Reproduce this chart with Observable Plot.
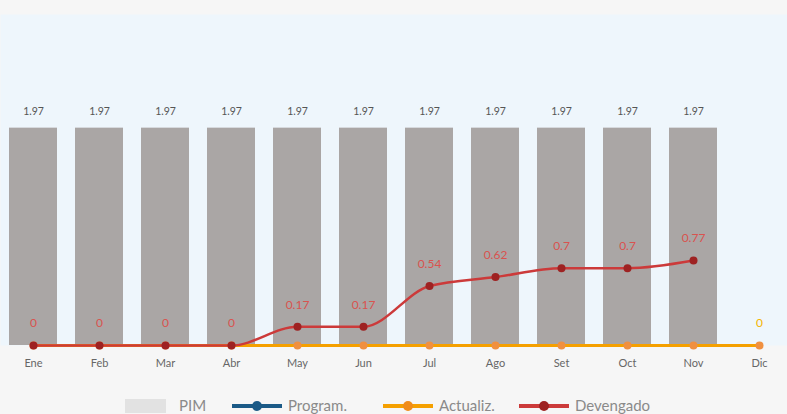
<!DOCTYPE html>
<html>
<head>
<meta charset="utf-8">
<script src="https://cdn.jsdelivr.net/npm/d3@7"></script>
<script src="https://cdn.jsdelivr.net/npm/@observablehq/plot@0.6"></script>
<style>
  html, body { margin: 0; padding: 0; background: #f6f6f6; }
  #wrap { width: 787px; height: 414px; background: #f6f6f6; font-family: Lato, "Open Sans", sans-serif; overflow: hidden; position: relative; }
  #legend { position: absolute; top: 395px; left: 0; width: 787px; height: 19px; }
  .li { position: absolute; top: 0; display: flex; align-items: center; font-size: 15px; color: #8a8a8a; height: 19px; }
</style>
</head>
<body>
<div id="wrap">
  <div id="chart"></div>
  <div id="legend"></div>
</div>
<script>
const months = ["Ene","Feb","Mar","Abr","May","Jun","Jul","Ago","Set","Oct","Nov","Dic"];
const pim = [1.97,1.97,1.97,1.97,1.97,1.97,1.97,1.97,1.97,1.97,1.97,null];
const program = [null,null,null,null,null,null,null,null,null,null,null,null];
const actualiz = [0,0,0,0,0,0,0,0,0,0,0,0];
const devengado = [0,0,0,0,0.17,0.17,0.54,0.62,0.7,0.7,0.77,null];

const rows = months.map((m, i) => ({m, pim: pim[i], program: program[i], actualiz: actualiz[i], dev: devengado[i]}));
const pimRows = rows.filter(d => d.pim != null);
const devRows = rows.filter(d => d.dev != null);
const progRows = rows.filter(d => d.program != null);
const actLabelRows = rows.filter(d => d.dev == null);

const chart = Plot.plot({
  width: 787,
  height: 385,
  marginLeft: 0,
  marginRight: 0,
  marginTop: 14,
  marginBottom: 40,
  style: {fontFamily: "Lato, 'Open Sans', sans-serif", background: "transparent", overflow: "visible"},
  x: {domain: months, range: [0, 792], paddingInner: 0.27, paddingOuter: 0.135, label: null},
  y: {domain: [0, 3], axis: null},
  marks: [
    Plot.frame({fill: "#eef6fc", stroke: null}),
    Plot.barY(pimRows, {x: "m", y: "pim", fill: "#aaa6a5"}),
    Plot.text(pimRows, {x: "m", y: "pim", text: d => String(d.pim), dy: -17, fill: "#555", fontSize: 10.5}),
    Plot.line(progRows, {x: "m", y: "program", stroke: "#1b5a87", strokeWidth: 3}),
    Plot.line(rows, {x: "m", y: "actualiz", stroke: "#f5a000", strokeWidth: 3}),
    Plot.dot(rows, {x: "m", y: "actualiz", r: 4, fill: "#f09040"}),
    Plot.line(devRows, {x: "m", y: "dev", stroke: "#cc3a3a", strokeWidth: 2.5, curve: "monotone-x"}),
    Plot.dot(devRows, {x: "m", y: "dev", r: 4, fill: "#9e2222"}),
    Plot.text(devRows, {x: "m", y: "dev", text: d => String(d.dev), dy: -22, fill: "#d9534f", fontSize: 12}),
    Plot.text(actLabelRows, {x: "m", y: "actualiz", text: d => String(d.actualiz), dy: -22, fill: "#f5b400", fontSize: 12}),
    Plot.axisX({tickSize: 0, tickPadding: 14, fontSize: 11, color: "#666", label: null})
  ]
});
document.getElementById("chart").appendChild(chart);

// Legend
const legendItems = [
  {name: "PIM", type: "rect", color: "#e2e2e2", left: 125},
  {name: "Program.", type: "line", color: "#1b5a87", dot: "#1b5a87", left: 232},
  {name: "Actualiz.", type: "line", color: "#f5a000", dot: "#f08c1a", left: 383},
  {name: "Devengado", type: "line", color: "#cc3a3a", dot: "#9e2222", left: 519}
];
const legend = document.getElementById("legend");
for (const it of legendItems) {
  const div = document.createElement("div");
  div.className = "li";
  div.style.left = it.left + "px";
  let icon;
  if (it.type === "rect") {
    icon = `<svg width="52" height="16"><rect x="0" y="2" width="41" height="14" fill="${it.color}"/></svg>`;
  } else {
    icon = `<svg width="54" height="16"><line x1="0" x2="50" y1="9" y2="9" stroke="${it.color}" stroke-width="4"/><circle cx="25" cy="9" r="5" fill="${it.dot}"/></svg>`;
  }
  div.innerHTML = icon + `<span style="margin-left:2px">${it.name}</span>`;
  legend.appendChild(div);
}
</script>
</body>
</html>
